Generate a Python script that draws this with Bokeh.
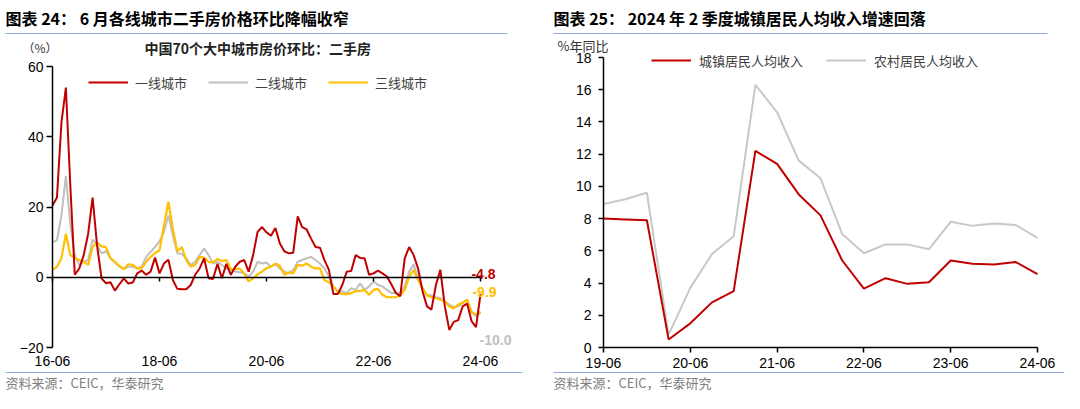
import numpy as np
from bokeh.plotting import figure
from bokeh.models import (ColumnDataSource, FixedTicker, LinearAxis, Label,
                          Legend, LegendItem, Range1d)
from bokeh.layouts import row
from bokeh.embed import file_html
from bokeh.resources import INLINE
from bokeh.core.properties import value

# ---------------- data: left chart (monthly, 2016-06 .. 2024-06) ----------------
tier1 = [20.4, 22.7, 44, 54, 26, 0.7, 2.5, 6.3, 12.4, 22.7, 9, -0.3, -1.7, -1.4, -3.8, -2,
         -0.3, -1.8, -1.5, 1.1, 1.9, 0.7, 1.6, 5.6, 1.1, 3.9, 5, -0.8, -3.3, -3.4, -3.4, -2.2,
         0.7, 2.5, 5.4, -0.3, -0.5, 3.8, -0.3, 3.8, 0.7, 3, 4.4, 4.9, 1.6, 6.3, 12.9, 14.3,
         12.8, 11.8, 14, 9.6, 7.4, 6.8, 7, 17.3, 14.3, 13.6, 11, 8.6, 8.4, 4.9, 2.1, -4.8,
         -4.8, -2.2, 1.6, 1.8, 6.3, 5.5, 5.4, 0.7, 1.1, 1.9, 1.1, 0.2, -2, -4.5, -5.4, 5.4,
         8.6, 6.3, 2.5, -4, -8.3, -9.2, -2.2, 2.1, -8.3, -15, -12.7, -12.2, -8.3, -7.5, -12.5,
         -14.2, -4.8]
tier2 = [10, 10.5, 17.6, 28.8, 15, 6.3, 3.5, 4.4, 4.9, 10.7, 9.1, 6.8, 7.4, 5.4, 4.2, 3,
         2.3, 3, 3, 2.5, 3, 5.8, 7.2, 8.6, 10.2, 12.9, 17.6, 11.9, 6.8, 6.6, 5.4, 3.5,
         4.4, 6.3, 8.2, 6.3, 3.9, 4.4, 3.5, 2.5, 2.1, 1.6, 1.4, 1.1, 0.2, 1.6, 4.4, 3.9,
         4.2, 3, 3.7, 2.5, 1.6, 1.1, 2.1, 4.4, 4.9, 5.4, 5.8, 4.9, 3.9, 2.5, 0.2, -2.6,
         -4, -4, -4.5, -3.1, -3.6, -1.7, -3.6, -2.6, -1.2, -2.2, -2.6, -3.6, -4.5, -4.5, -4.5, -2.6,
         1.6, 3.7, -0.3, -3.1, -5, -5.2, -5.7, -5.9, -6.9, -7.8, -8.5, -8.3, -7.3, -6.4, -9.7,
         -11.1, -10.0]
tier3 = [2.1, 3, 5.4, 12.4, 6.3, 5.5, 4.9, 4.4, 3.5, 8.6, 9.9, 8.8, 8.6, 5.4, 4.4, 3.2,
         2.3, 3.7, 3.5, 2.5, 2.5, 4.4, 5.8, 6.9, 7.7, 14.7, 21.5, 13.8, 7.4, 8.6, 4.9, 3,
         3.5, 5.8, 5.6, 4.4, 4.2, 5.2, 4.6, 4.9, 2.3, 2.3, 2.5, 1.1, -1.2, -0.3, 0.8, 1.6,
         2.6, 3, 3.9, 3.3, 0.7, 1.4, 1.1, 3.5, 3.3, 3.9, 3, 2.5, 2.5, -0.8, -1.4, -2.6,
         -4.2, -4.8, -4.8, -4.5, -4, -3.9, -3.6, -5, -3.6, -3.3, -5, -5.7, -5.7, -5.7, -5.2, -3.6,
         0.2, 2.1, -0.8, -3.1, -5.2, -5.7, -5.9, -6.4, -6.9, -8.3, -8.9, -7.8, -7.3, -6.4, -10.1,
         -10.6, -9.9]
left_series_names = ["一线城市", "二线城市", "三线城市"]
left_ticks = [0, 24, 48, 72, 96]
left_tick_labels = ["16-06", "18-06", "20-06", "22-06", "24-06"]
left_yticks = [-20, 0, 20, 40, 60]

# ---------------- data: right chart (quarterly, 2019Q2 .. 2024Q2) ----------------
urban = [8.0, 7.95, 7.9, 0.5, 1.5, 2.8, 3.5, 12.2, 11.4, 9.5, 8.2, 5.4, 3.65, 4.3,
         3.95, 4.05, 5.4, 5.2, 5.15, 5.3, 4.55]
rural = [8.9, 9.2, 9.6, 0.8, 3.7, 5.8, 6.9, 16.3, 14.6, 11.6, 10.5, 7.05, 5.85, 6.4,
         6.4, 6.1, 7.8, 7.55, 7.7, 7.6, 6.8]
right_series_names = ["城镇居民人均收入", "农村居民人均收入"]
right_ticks = [0, 4, 8, 12, 16, 20]
right_tick_labels = ["19-06", "20-06", "21-06", "22-06", "23-06", "24-06"]
right_yticks = [0, 2, 4, 6, 8, 10, 12, 14, 16, 18]

RED = "#C00000"
GREY = "#BFBFBF"
YELLOW = "#FFC000"
RULE = "#8EAADB"
NUM_FONT = "Liberation Sans"
CJK = "Noto Sans CJK SC"
H = 393
FRAME_BOTTOM = 347     # pixel row of the lowest y tick
SRC_Y = 382            # source line
RULE_BOTTOM_Y = 372


def span_range(px0, v0, px1, v1, size):
    """range whose values v0/v1 land on pixels px0/px1 of a canvas of given size"""
    scale = (px1 - px0) / (v1 - v0)
    return Range1d(v0 - px0 / scale, v0 + (size - px0) / scale)


def base_fig(width, xr, yr):
    p = figure(width=width, height=H, x_range=xr, y_range=yr, title=None,
               output_backend="svg", toolbar_location=None,
               x_axis_location=None, y_axis_location=None,
               min_border=0, min_border_left=0, min_border_right=0,
               min_border_top=0, min_border_bottom=0)
    p.grid.visible = False
    p.outline_line_color = None
    p.background_fill_color = "white"
    p.border_fill_color = "white"
    return p


def style_axis(ax, line=True, ticks_out=0, standoff=5, labels=True):
    ax.axis_line_color = "#000000" if line else None
    ax.axis_line_width = 1.5
    ax.major_tick_line_color = "#000000" if ticks_out else None
    ax.major_tick_line_width = 1.5
    ax.major_tick_out = ticks_out
    ax.major_tick_in = 0
    ax.minor_tick_line_color = None
    ax.major_label_standoff = standoff
    ax.major_label_text_font = NUM_FONT
    ax.major_label_text_font_size = "14px" if labels else "1px"
    ax.major_label_text_color = "#000000"
    if not labels:
        ax.major_label_text_alpha = 0


def screen_label(p, x, py, text, size, color="#000000", bold=False, font=CJK, align="left"):
    p.add_layout(Label(x=x, y=H - py, x_units="screen", y_units="screen", text=text,
                       text_font=font, text_font_size=size, text_color=color,
                       text_font_style="bold" if bold else "normal",
                       text_align=align, text_baseline="middle"))


def rules(p, width, specs):
    """horizontal separator rules given as (left_px, right_px, row_px) of the canvas"""
    xr, yr = p.x_range, p.y_range

    def dx(px):
        return xr.start + px / width * (xr.end - xr.start)

    def dy(py):
        return yr.start + (H - py) / H * (yr.end - yr.start)

    p.segment(x0=[dx(a) for a, b, c in specs], x1=[dx(b) for a, b, c in specs],
              y0=[dy(c) for a, b, c in specs], y1=[dy(c) for a, b, c in specs],
              line_color=RULE, line_width=1.2)


# ======================= LEFT =======================
WL = 540
xl = np.arange(len(tier1))
pl = base_fig(WL, span_range(52, left_ticks[0], 480, left_ticks[-1], WL),
              span_range(H - FRAME_BOTTOM, left_yticks[0], H - 66, left_yticks[-1], H))
src_l = ColumnDataSource(dict(x=xl, t1=tier1, t2=tier2, t3=tier3))
r2 = pl.line("x", "t2", source=src_l, line_color=GREY, line_width=2)
r3 = pl.line("x", "t3", source=src_l, line_color=YELLOW, line_width=2.2)
r1 = pl.line("x", "t1", source=src_l, line_color=RED, line_width=2)

yax = LinearAxis(fixed_location=left_ticks[0], ticker=FixedTicker(ticks=left_yticks),
                 bounds=(left_yticks[0], left_yticks[-1]))
style_axis(yax, line=True, ticks_out=6, standoff=3)
pl.add_layout(yax, "left")
zax = LinearAxis(fixed_location=0, ticker=FixedTicker(ticks=left_ticks),
                 bounds=(left_ticks[0], left_ticks[-1]))
style_axis(zax, line=True, ticks_out=4, standoff=0, labels=False)
pl.add_layout(zax, "below")
lab_ax = LinearAxis(fixed_location=left_yticks[0], ticker=FixedTicker(ticks=left_ticks))
style_axis(lab_ax, line=False, ticks_out=0, standoff=8)
lab_ax.major_label_overrides = {t: l for t, l in zip(left_ticks, left_tick_labels)}
pl.add_layout(lab_ax, "below")

end_src = ColumnDataSource(dict(
    x=[xl[-1]] * 3,
    y=[tier1[-1], tier3[-1], tier2[-1]],
    text=[f"{tier1[-1]:.1f}", f"{tier3[-1]:.1f}", f"{tier2[-1]:.1f}"],
    color=[RED, YELLOW, GREY],
    xo=[3, 4, 15],
    yo=[-20, -20, 28],
))
pl.text(x="x", y="y", text="text", text_color="color", x_offset="xo", y_offset="yo",
        text_font=value(NUM_FONT), text_font_style="bold", text_font_size="14px",
        text_align="center", text_baseline="middle", source=end_src)

leg_l = Legend(items=[LegendItem(label=left_series_names[0], renderers=[r1]),
                      LegendItem(label=left_series_names[1], renderers=[r2]),
                      LegendItem(label=left_series_names[2], renderers=[r3])],
               orientation="horizontal", location=(88, H - 82 - 10), glyph_width=40,
               glyph_height=20, label_standoff=7, spacing=21, padding=0, margin=0,
               border_line_alpha=0, background_fill_alpha=0,
               label_text_font=CJK, label_text_font_size="13px", label_text_color="#404040")
pl.add_layout(leg_l)

screen_label(pl, 5, 17, "图表 24：  6 月各线城市二手房价格环比降幅收窄", "16px", bold=True)
screen_label(pl, 22, 47, "（%）", "12px", color="#333333")
screen_label(pl, 144, 47, "中国70个大中城市房价环比：二手房", "14px", color="#222222", bold=True)
screen_label(pl, 5, SRC_Y, "资料来源：CEIC，华泰研究", "13px", color="#808080")
rules(pl, WL, [(5, 507, 33), (5, 522, RULE_BOTTOM_Y)])

# ======================= RIGHT =======================
WR = 524
X0 = 540  # page offset of the right panel
xr_ = np.arange(len(urban))
pr = base_fig(WR, span_range(603 - X0, right_ticks[0], 1037 - X0, right_ticks[-1], WR),
              span_range(H - FRAME_BOTTOM, right_yticks[0], H - 57, right_yticks[-1], H))
src_r = ColumnDataSource(dict(x=xr_, urban=urban, rural=rural))
rr2 = pr.line("x", "rural", source=src_r, line_color="#C8C8C8", line_width=2)
rr1 = pr.line("x", "urban", source=src_r, line_color=RED, line_width=2)

xax2 = LinearAxis(fixed_location=right_yticks[0], ticker=FixedTicker(ticks=right_ticks),
                  bounds=(right_ticks[0], right_ticks[-1]))
style_axis(xax2, line=True, ticks_out=5, standoff=5)
xax2.major_label_overrides = {t: l for t, l in zip(right_ticks, right_tick_labels)}
pr.add_layout(xax2, "below")

yax2 = LinearAxis(fixed_location=right_ticks[0], ticker=FixedTicker(ticks=right_yticks),
                  bounds=(right_yticks[0], right_yticks[-1]))
style_axis(yax2, line=True, ticks_out=5, standoff=7)
pr.add_layout(yax2, "left")

leg_r = Legend(items=[LegendItem(label=right_series_names[0], renderers=[rr1]),
                      LegendItem(label=right_series_names[1], renderers=[rr2])],
               orientation="horizontal", location=(651 - X0, H - 60 - 10), glyph_width=40,
               glyph_height=20, label_standoff=8, spacing=23, padding=0, margin=0,
               border_line_alpha=0, background_fill_alpha=0,
               label_text_font=CJK, label_text_font_size="13px", label_text_color="#404040")
pr.add_layout(leg_r)

screen_label(pr, 553 - X0, 17, "图表 25：  2024 年 2 季度城镇居民人均收入增速回落", "16px", bold=True)
screen_label(pr, 557 - X0, 45, "%年同比", "13px", color="#333333")
screen_label(pr, 553 - X0, SRC_Y, "资料来源：CEIC，华泰研究", "13px", color="#808080")
rules(pr, WR, [(553 - X0, 1047 - X0, 33), (553 - X0, WR, RULE_BOTTOM_Y)])

layout = row(pl, pr)
open("out.html", "w").write(file_html(layout, INLINE))
